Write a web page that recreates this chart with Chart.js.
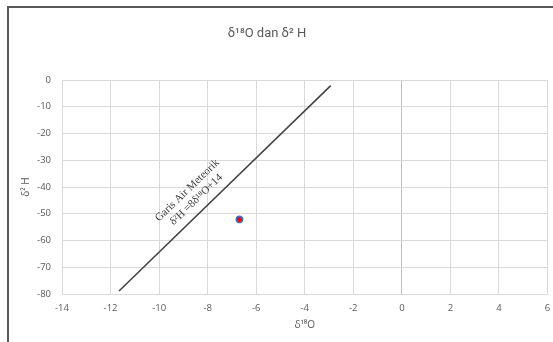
<!DOCTYPE html>
<html><head><meta charset="utf-8">
<script src="https://cdn.jsdelivr.net/npm/chart.js@4"></script>
<style>html,body{margin:0;padding:0;background:#fff;}#wrap{width:553px;height:342px;position:relative;}</style>
</head><body><div id="wrap"><canvas id="c" width="553" height="342"></canvas></div>
<script>
const chartTitle = "δ¹⁸O dan δ² H";
const xTitle = "δ¹⁸O";
const yTitle = "δ² H";
const lineLabel1 = "Garis Air Meteorik";
const lineLabel2 = "δ²H =8δ¹⁸O+14";
const lmaX = [-11.65, -2.93];
const lmaY = [-78.9, -2.1];
const sampleX = [-6.69];
const sampleY = [-52.1];
const labelAnchor = [-8.65, -43.0];

const custom = {
  id: 'custom',
  afterDraw(chart) {
    const ctx = chart.ctx;
    ctx.save();
    ctx.fillStyle = '#595959';
    ctx.fillRect(7, 6, 553, 2);
    ctx.fillRect(7, 6, 2, 342);
    ctx.font = '13px Roboto, "Open Sans", sans-serif';
    ctx.fillStyle = '#595959';
    ctx.textAlign = 'center';
    ctx.textBaseline = 'middle';
    ctx.fillText(chartTitle, 267, 34);
    const xs = chart.scales.x, ys = chart.scales.y;
    const px = xs.getPixelForValue(labelAnchor[0]);
    const py = ys.getPixelForValue(labelAnchor[1]);
    ctx.translate(px, py);
    ctx.rotate(-44 * Math.PI / 180);
    ctx.font = '11px "Liberation Serif", "DejaVu Serif", serif';
    ctx.fillStyle = '#404040';
    ctx.fillText(lineLabel1, 0, -6.5);
    ctx.fillText(lineLabel2, 0, 6.5);
    ctx.restore();
  }
};

const lineData = lmaX.map((v, i) => ({x: v, y: lmaY[i]}));
const pointData = sampleX.map((v, i) => ({x: v, y: sampleY[i]}));

new Chart(document.getElementById('c'), {
  type: 'scatter',
  data: {
    datasets: [
      { data: pointData, backgroundColor: '#ff0000', borderColor: '#4472c4', borderWidth: 1.5, pointRadius: 3.2 },
      { data: lineData, showLine: true, borderColor: '#404040', borderWidth: 1.5, pointRadius: 0, fill: false }
    ]
  },
  options: {
    responsive: false,
    animation: false,
    layout: { padding: { top: 80, right: 1, left: 0, bottom: 0 } },
    plugins: { legend: { display: false }, tooltip: { enabled: false }, title: { display: false } },
    scales: {
      x: {
        type: 'linear', min: -14, max: 6,
        ticks: { stepSize: 2, color: '#595959', font: { size: 9.5, family: '"Open Sans", "Liberation Sans", sans-serif' }, padding: 9 },
        grid: { drawTicks: false, color: ctx => ctx.tick && ctx.tick.value === 0 ? '#bfbfbf' : '#d9d9d9' },
        border: { display: false },
        title: { display: true, text: xTitle, color: '#595959', font: { size: 10, family: '"Open Sans", "Liberation Sans", sans-serif' }, padding: { top: 3, bottom: 11 } },
        afterFit(s) { s.height = 48; s.paddingLeft = 0; s.paddingRight = 0; }
      },
      y: {
        type: 'linear', min: -80, max: 0,
        ticks: { stepSize: 10, color: '#595959', font: { size: 9.5, family: '"Open Sans", "Liberation Sans", sans-serif' }, padding: 11 },
        grid: { drawTicks: false, color: '#d9d9d9' },
        border: { display: false },
        title: { display: true, text: yTitle, color: '#595959', font: { size: 10, family: '"Open Sans", "Liberation Sans", sans-serif' }, padding: { top: 20, bottom: 0 } },
        afterFit(s) { s.width = 62; s.paddingTop = 0; s.paddingBottom = 0; }
      }
    }
  },
  plugins: [custom]
});
</script></body></html>
